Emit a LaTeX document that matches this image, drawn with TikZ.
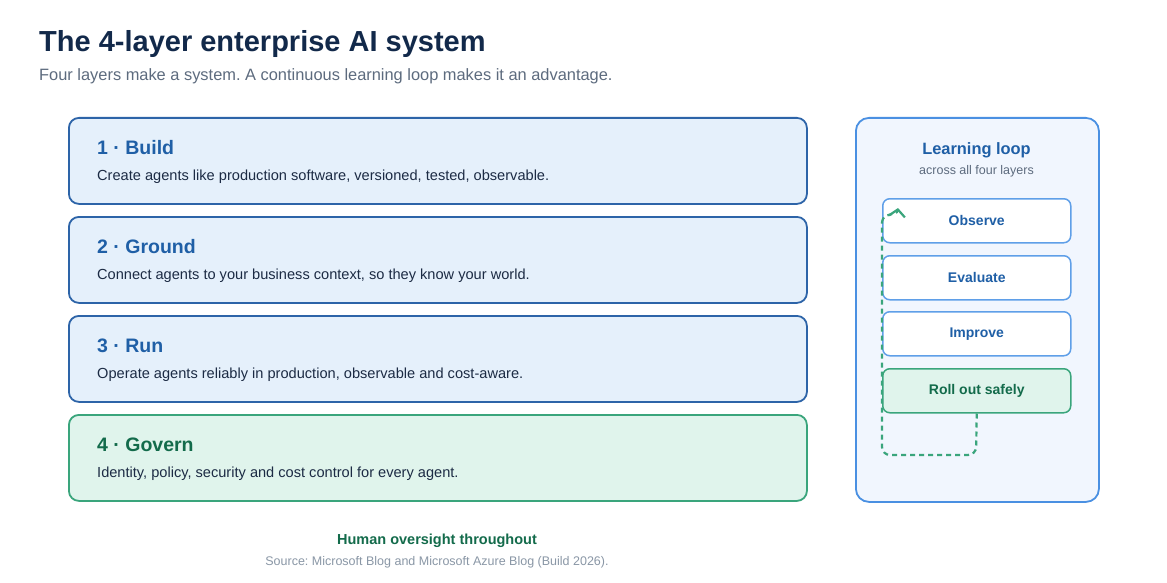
\documentclass[tikz,border=0pt]{standalone}
\usepackage{fontspec}
\setmainfont{Liberation Sans}
\usetikzlibrary{arrows.meta}
\definecolor{titlec}{HTML}{12294A}
\definecolor{subc}{HTML}{5D6B7E}
\definecolor{bborder}{HTML}{2D64A8}
\definecolor{bfill}{HTML}{E5F0FB}
\definecolor{btext}{HTML}{1F5FA6}
\definecolor{dtext}{HTML}{1C2B44}
\definecolor{gborder}{HTML}{3AA57C}
\definecolor{gfill}{HTML}{E0F4EC}
\definecolor{gtext}{HTML}{136B4B}
\definecolor{pfill}{HTML}{F1F6FE}
\definecolor{pborder}{HTML}{4A90E2}
\definecolor{sborder}{HTML}{5F9FE8}
\definecolor{srcc}{HTML}{8A97A6}
\newcommand{\fs}[1]{\fontsize{#1}{#1}\selectfont}
\frenchspacing
\tikzset{
  layerbox/.style={draw=bborder, fill=bfill, line width=1.8pt, rounded corners=10pt, minimum width=738pt, minimum height=86pt, anchor=north west, inner sep=0pt},
  govbox/.style={layerbox, draw=gborder, fill=gfill},
  ltitle/.style={anchor=base west, inner sep=0pt, text=btext, font=\fs{19.5}\bfseries},
  ldesc/.style={anchor=base west, inner sep=0pt, text=dtext, font=\fs{14.6}},
  stepbox/.style={draw=sborder, fill=white, line width=1.5pt, rounded corners=7pt, minimum width=188pt, minimum height=44pt, anchor=north west, inner sep=0pt, text=btext, font=\fs{14}\bfseries},
  greenstep/.style={stepbox, draw=gborder, fill=gfill, text=gtext},
  loopline/.style={draw=gborder, line width=2.2pt, dash pattern=on 5pt off 4pt}
}
\begin{document}
\begin{tikzpicture}[x=1pt,y=-1pt]
\useasboundingbox (0,0) rectangle (1167,583);
\fill[white] (0,0) rectangle (1167,583);
\node[anchor=base west, inner sep=0pt, text=titlec, font=\fs{29}\bfseries] (title) at (39,52) {The 4-layer enterprise AI system};
\node[anchor=base west, inner sep=0pt, text=subc, font=\fs{16.4}] (subtitle) at (39,81) {Four layers make a system. A continuous learning loop makes it an advantage.};

\node[layerbox] (l1) at (68,117) {};
\node[layerbox] (l2) at (68,216) {};
\node[layerbox] (l3) at (68,315) {};
\node[govbox] (l4) at (68,414) {};

\node[ltitle] (t1) at (97,154) {1 · Build};
\node[ldesc] (d1) at (97,180) {Create agents like production software, versioned, tested, observable.};
\node[ltitle] (t2) at (97,253) {2 · Ground};
\node[ldesc] (d2) at (97,279) {Connect agents to your business context, so they know your world.};
\node[ltitle] (t3) at (97,352) {3 · Run};
\node[ldesc] (d3) at (97,378) {Operate agents reliably in production, observable and cost-aware.};
\node[ltitle, text=gtext] (t4) at (97,451) {4 · Govern};
\node[ldesc] (d4) at (97,477) {Identity, policy, security and cost control for every agent.};

\node[draw=pborder, fill=pfill, line width=1.8pt, rounded corners=13pt, minimum width=243pt, minimum height=384pt, anchor=north west, inner sep=0pt] (panel) at (855,117) {};
\node[anchor=base, inner sep=0pt, text=btext, font=\fs{16.4}\bfseries] (lt) at (976.5,154) {Learning loop};
\node[anchor=base, inner sep=0pt, text=subc, font=\fs{12.5}] (ls) at (976.5,175) {across all four layers};

\node[stepbox] (s1) at (882,198) {Observe};
\node[stepbox] (s2) at (882,255) {Evaluate};
\node[stepbox] (s3) at (882,311) {Improve};
\node[greenstep] (s4) at (882,368) {Roll out safely};

\coordinate (c1) at (976,455);
\coordinate (c2) at (882,455);
\coordinate (c3) at (882,222);
\coordinate (tip) at (898,208);
\draw[loopline, rounded corners=8pt] (s4.south) -- (c1) -- (c2) -- (c3);
\draw[loopline, -{Straight Barb[length=7pt,width=16pt]}] (c3) .. controls (883,212) and (897,216) .. (tip);

\node[anchor=base, inner sep=0pt, text=gtext, font=\fs{14.5}\bfseries] (human) at (437,544) {Human oversight throughout};
\node[anchor=base, inner sep=0pt, text=srcc, font=\fs{12.5}] (src) at (437,565) {Source: Microsoft Blog and Microsoft Azure Blog (Build 2026).};
\end{tikzpicture}
\end{document}
